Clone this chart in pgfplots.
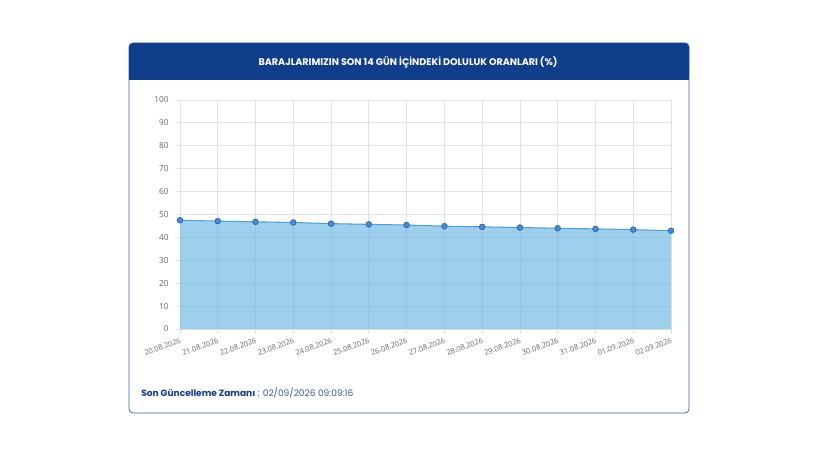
\documentclass[border=0pt]{standalone}
\usepackage{pgfplots}
\pgfplotsset{compat=1.18}
\usepackage{fontspec}
\setmainfont{Open Sans}
\newfontfamily\titlefont{Poppins}

\definecolor{headblue}{RGB}{17,62,138}
\definecolor{cardline}{RGB}{60,100,160}
\definecolor{areafill}{RGB}{100,180,228}
\definecolor{lineblue}{RGB}{78,160,214}
\definecolor{markfill}{RGB}{74,140,205}
\definecolor{markdraw}{RGB}{45,105,170}
\definecolor{gridgray}{RGB}{226,226,226}
\definecolor{ticktext}{RGB}{102,102,102}
\definecolor{footblue}{RGB}{20,60,130}
\definecolor{footval}{RGB}{60,90,150}

\pgfplotstableread{
x val
0 47.5
1 47.1
2 46.8
3 46.5
4 46.0
5 45.7
6 45.4
7 44.9
8 44.6
9 44.3
10 44.0
11 43.7
12 43.4
13 42.9
}\levels

\begin{document}
\begin{tikzpicture}
\begin{scope}[x=0.75pt, y=-0.75pt, shift={(0pt,345.75pt)}]
% page
\fill[white] (0,0) rectangle (820,461);
% card
\draw[cardline, line width=0.6pt, fill=white, rounded corners=3pt] (129,43) rectangle (689,413);
\fill[headblue, rounded corners=3pt] (129,43) rectangle (689,80);
\fill[headblue] (129,60) rectangle (689,80);
\node[white, font=\titlefont\bfseries\fontsize{7.2pt}{9pt}\selectfont] at (408,62) {BARAJLARIMIZIN SON 14 GÜN İÇİNDEKİ DOLULUK ORANLARI (\%)};
% footer
\node[anchor=west, inner sep=0pt, font=\titlefont\fontsize{6.8pt}{9pt}\selectfont] at (141,393)
  {\textcolor{footblue}{\bfseries Son Güncelleme Zamanı} \textcolor{footval}{: 02/09/2026 09:09:16}};
\end{scope}
\begin{axis}[
  at={(135pt,99pt)}, anchor=south west,
  scale only axis, width=368.25pt, height=171.75pt,
  xmin=0, xmax=13, ymin=0, ymax=100,
  xtick={0,...,13},
  xticklabels={20.08.2026,21.08.2026,22.08.2026,23.08.2026,24.08.2026,25.08.2026,26.08.2026,27.08.2026,28.08.2026,29.08.2026,30.08.2026,31.08.2026,01.09.2026,02.09.2026},
  ytick={0,10,...,100},
  tick pos=left,
  grid=major, grid style={gridgray, line width=0.6pt},
  axis line style={gridgray, line width=0.6pt},
  tick align=outside, major tick length=4pt,
  tick style={gridgray, line width=0.6pt},
  tick label style={ticktext},
  yticklabel style={font=\fontsize{6.2pt}{8pt}\selectfont, xshift=-1pt},
  xticklabel style={font=\fontsize{5.6pt}{7pt}\selectfont, rotate=20, anchor=north east, inner sep=1pt, yshift=-1pt},
  /pgf/number format/assume math mode=true,
  clip=false,
]
\addplot[fill=areafill, fill opacity=0.62, draw=none] table[x=x, y=val] {\levels} \closedcycle;
\addplot[lineblue, line width=0.8pt, mark=*, mark size=2.1pt,
  mark options={fill=markfill, draw=markdraw, line width=0.6pt}] table[x=x, y=val] {\levels};
\end{axis}
\end{tikzpicture}%
\end{document}
